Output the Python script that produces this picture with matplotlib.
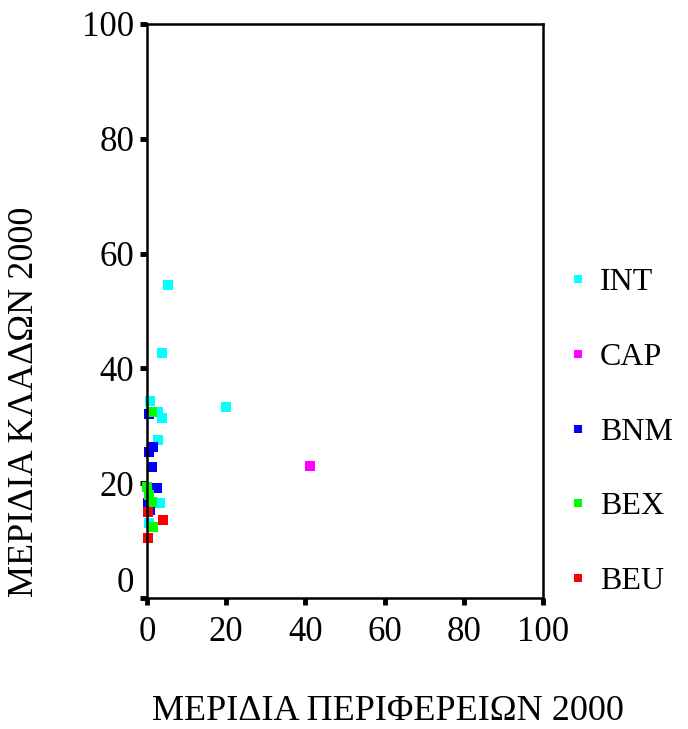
import matplotlib
matplotlib.use("Agg")
import matplotlib.pyplot as plt
import matplotlib.transforms as mtransforms

plt.rcParams['font.family'] = ['Liberation Serif', 'DejaVu Serif']

groups = ["INT", "CAP", "BNM", "BEX", "BEU"]
colors = {"INT": "#00ffff", "CAP": "#ff00ff", "BNM": "#0000ff", "BEX": "#00ff00", "BEU": "#ff0000"}

int_x = [5.3, 3.8, 20.0, 0.8, 2.8, 3.8, 2.8, 3.3, 0.5]
int_y = [54.5, 42.7, 33.3, 34.4, 32.4, 31.4, 27.5, 16.6, 13.1]
cap_x = [41.2]
cap_y = [23.0]
bnm_x = [0.5, 1.5, 0.5, 1.3, 2.5, 0.2, 0.8]
bnm_y = [32.0, 26.3, 25.4, 22.9, 19.2, 16.6, 15.3]
bex_x = [1.3, 0.0, 0.5, 1.3, 1.5]
bex_y = [32.4, 19.4, 18.0, 16.7, 12.4]
beu_x = [0.2, 4.0, 0.2]
beu_y = [15.0, 13.6, 10.4]

data = {"INT": (int_x, int_y), "CAP": (cap_x, cap_y), "BNM": (bnm_x, bnm_y),
        "BEX": (bex_x, bex_y), "BEU": (beu_x, beu_y)}

xticks = [0, 20, 40, 60, 80, 100]
yticks = [0, 20, 40, 60, 80, 100]

fig = plt.figure(figsize=(6.88, 7.29), dpi=100)
ax = fig.add_axes([147/688, 1-598/729, 396/688, 574/729])

for g in groups:
    x, y = data[g]
    ax.plot(x, y, linestyle='none', marker='s', markersize=6.5,
            color=colors[g], markeredgewidth=0, label=g, clip_on=False)

ax.set_xlim(0, 100)
ax.set_ylim(0, 100)
ax.set_xticks(xticks)
ax.set_yticks(yticks)
ax.tick_params(direction='out', length=5, width=3.5, labelsize=25, pad=4)
ax.tick_params(axis='x', pad=8)
for s in ax.spines.values():
    s.set_linewidth(1.8)

# nudge the "0" y tick label upward as in reference
lbl0 = ax.get_yticklabels()[0]
lbl0.set_transform(lbl0.get_transform() + mtransforms.ScaledTranslation(0, 18/100, fig.dpi_scale_trans))

fig.text(25/688, 1-402/729, "ΜΕΡΙΔΙΑ ΚΛΑΔΩΝ 2000", rotation=90, ha='center', va='center', fontsize=26)
fig.text(388/688, 1-712/729, "ΜΕΡΙΔΙΑ ΠΕΡΙΦΕΡΕΙΩΝ 2000", ha='center', va='center', fontsize=26)

leg = fig.legend(loc='center left', bbox_to_anchor=(568/688, 1-432/729), frameon=False,
                 fontsize=23, handlelength=0.6, handletextpad=0.4, labelspacing=1.42,
                 markerscale=1.0, borderpad=0, borderaxespad=0)
for h in leg.legend_handles:
    h.set_markersize(6)

fig.savefig("out.png", dpi=100)
